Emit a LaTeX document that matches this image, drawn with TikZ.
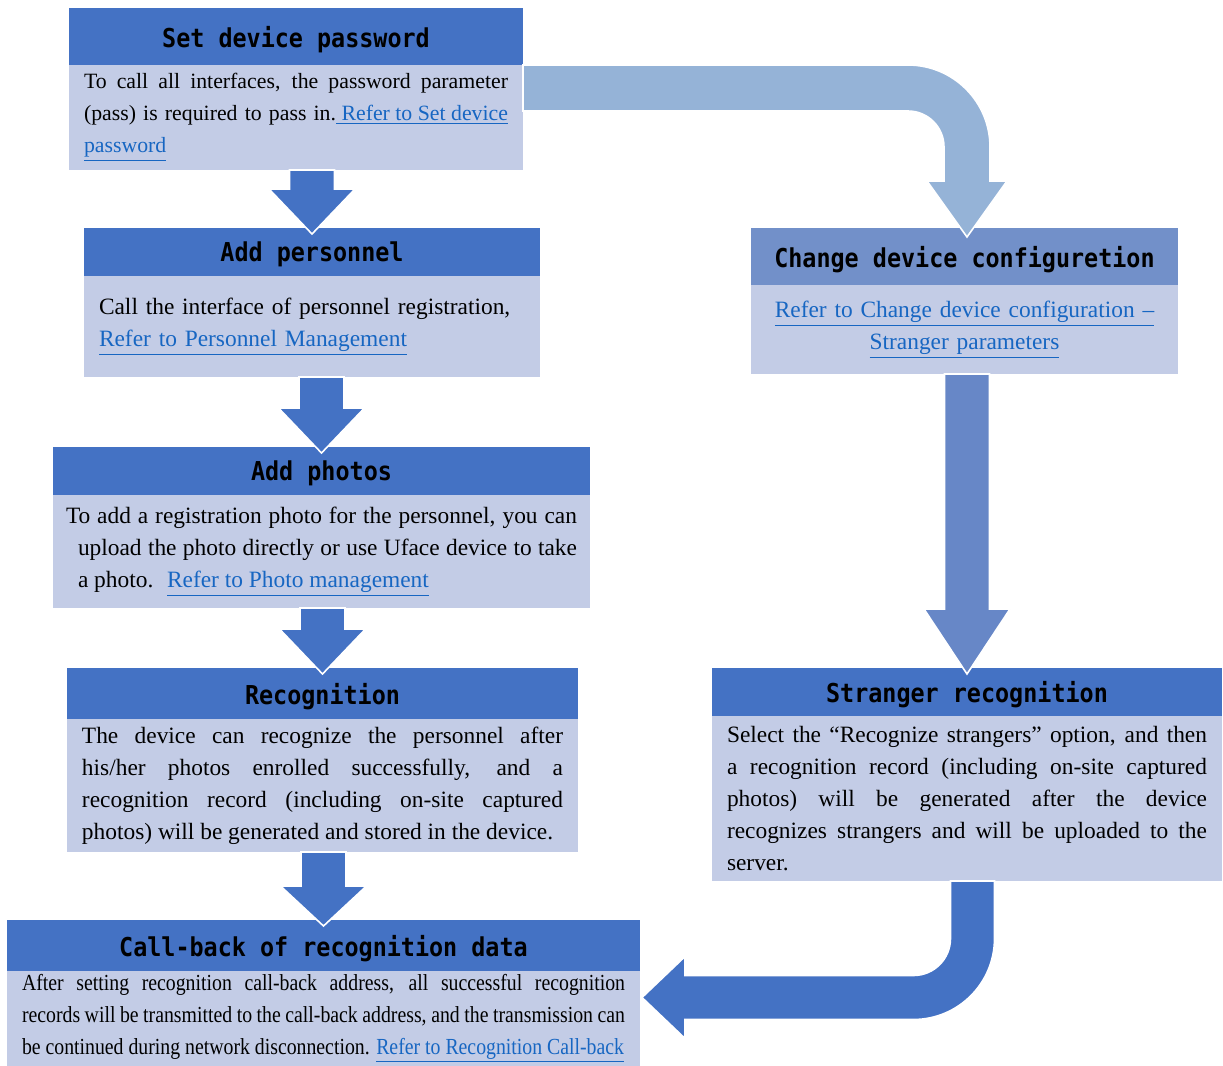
\documentclass[tikz,border=0pt]{standalone}
\usepackage{fontspec}
\setmainfont{Liberation Serif}
\newfontfamily\headfont{DejaVu Sans Mono}[FakeStretch=0.9]
\newfontfamily\narrowfont{Liberation Serif}[FakeStretch=0.86]
\usetikzlibrary{positioning,calc}
\definecolor{headblue}{HTML}{4472C4}
\definecolor{bodyblue}{HTML}{C3CCE6}
\definecolor{confblue}{HTML}{7290C9}
\definecolor{paleblue}{HTML}{95B3D7}
\definecolor{midblue}{HTML}{6787C7}
\definecolor{linkblue}{HTML}{1766C2}
\tikzstyle{head}=[fill=headblue, anchor=north west, inner sep=0pt, outer sep=0pt, text depth=0pt, font=\headfont\bfseries\fontsize{13}{15}\selectfont]
\tikzstyle{body}=[fill=bodyblue, inner xsep=7.5pt, inner ysep=0pt, outer sep=0pt, align=justify, font=\fontsize{11.7}{16}\selectfont]
\tikzstyle{blockarrow}=[draw=white, line width=0.8pt]
\newcommand{\lnk}[1]{{\color{linkblue}\underline{#1}}}
% from, to, colour, head base above target
\newcommand{\blockdown}[4]{%
  \fill[#3, blockarrow] let \p1=(#1.south), \p2=(#2.north) in
    (\x2-11.25pt,\y1) -- (\x2+11.25pt,\y1) -- (\x2+11.25pt,\y2+#4) -- (\x2+21.5pt,\y2+#4)
    -- (\x2,\y2-3pt) -- (\x2-21.5pt,\y2+#4) -- (\x2-11.25pt,\y2+#4) -- cycle;}

\begin{document}
\begin{tikzpicture}[x=1pt,y=1pt]
  \useasboundingbox (0,0) rectangle (611.5,-533);

  % left column
  \node at (34.5,-4) [head, minimum width=227pt, minimum height=28.5pt] (pwdhead) {Set device password};
  \node [body, below=0pt of pwdhead, text width=212pt, minimum height=52.5pt, font=\fontsize{10.9}{16}\selectfont] (pwdbody)
    {To call all interfaces, the password parameter\linebreak (pass) is required to pass in.\lnk{~Refer to Set device}\linebreak \lnk{password}};

  \node at (42,-114) [head, minimum width=228pt, minimum height=24pt] (pershead) {Add personnel};
  \node [body, below=0pt of pershead, text width=213pt, minimum height=50.5pt, align=left] (persbody)
    {Call the interface of personnel registration,\\ \lnk{Refer to Personnel Management}};

  \node at (26.5,-223.5) [head, minimum width=268.5pt, minimum height=24pt] (photohead) {Add photos};
  \node [body, below=0pt of photohead, text width=255.5pt, inner xsep=6.5pt, minimum height=56.5pt] (photobody)
    {{\hangindent=6pt \hangafter=1 To add a registration photo for the personnel, you can\linebreak upload the photo directly or use Uface device to take\linebreak a photo.~ \lnk{Refer to Photo management}\par}};

  \node at (33.5,-334) [head, minimum width=255.5pt, minimum height=25.5pt] (recoghead) {Recognition};
  \node [body, below=0pt of recoghead, text width=240.5pt, minimum height=66.5pt] (recogbody)
    {The device can recognize the personnel after\linebreak his/her photos enrolled successfully, and a\linebreak recognition record (including on-site captured\linebreak photos) will be generated and stored in the device.};

  \node at (3.5,-460) [head, minimum width=316.5pt, minimum height=25.5pt] (callbhead) {Call-back of recognition data};
  \node [body, below=0pt of callbhead, text width=301.5pt, minimum height=47.5pt, font=\narrowfont\fontsize{11.5}{16}\selectfont] (callbbody)
    {After setting recognition call-back address, all successful recognition\linebreak records will be transmitted to the call-back address, and the transmission can\linebreak be continued during network disconnection. \lnk{Refer to Recognition Call-back}};

  % right column
  \node at (375.5,-114) [head, fill=confblue, minimum width=213.5pt, minimum height=28.5pt] (confhead) {Change device configuretion};
  \node [body, below=0pt of confhead, text width=198.5pt, minimum height=44.5pt, align=center] (confbody)
    {\lnk{Refer to Change device configuration \textendash}\\ \lnk{Stranger parameters}};

  \node at (356,-334) [head, minimum width=255pt, minimum height=24pt] (strghead) {Stranger recognition};
  \node [body, below=0pt of strghead, text width=240pt, minimum height=82.5pt] (strgbody)
    {Select the “Recognize strangers” option, and then\linebreak a recognition record (including on-site captured\linebreak photos) will be generated after the device\linebreak recognizes strangers and will be uploaded to the\linebreak server.};

  % arrows
  \blockdown{pwdbody}{pershead}{headblue}{19.5pt}
  \blockdown{persbody}{photohead}{headblue}{19.5pt}
  \blockdown{photobody}{recoghead}{headblue}{19.5pt}
  \blockdown{recogbody}{callbhead}{headblue}{17pt}
  \blockdown{confbody}{strghead}{midblue}{29.5pt}

  \fill[paleblue, blockarrow] let \p1=(pwdbody.north east), \p2=(confhead.north) in
    (\x1,\y1) -- (\x2-28.25pt,\y1) arc[start angle=90, end angle=0, radius=41pt]
    -- (\x2+12.75pt,\y2+23.5pt) -- (\x2+21.25pt,\y2+23.5pt) -- (\x2+1.25pt,\y2-4.5pt)
    -- (\x2-18.75pt,\y2+23.5pt) -- (\x2-10.25pt,\y2+23.5pt) -- (\x2-10.25pt,\y1-41pt)
    arc[start angle=0, end angle=90, radius=18pt] -- (\x1,\y1-23pt) -- cycle;

  \fill[headblue, blockarrow] let \p1=(strgbody.south), \p2=(callbbody.east), \n1={\x1+2.75pt}, \n2={\y2+10.5pt} in
    (\n1-11pt,\y1) -- (\n1+11pt,\y1) -- (\n1+11pt,\n2+29.5pt) arc[start angle=0, end angle=-90, radius=40.5pt]
    -- (\x2+22.5pt,\n2-11pt) -- (\x2+22.5pt,\n2-20.5pt) -- (\x2+1pt,\n2) -- (\x2+22.5pt,\n2+20.5pt)
    -- (\x2+22.5pt,\n2+11pt) -- (\n1-29.5pt,\n2+11pt) arc[start angle=-90, end angle=0, radius=18.5pt] -- cycle;
\end{tikzpicture}
\end{document}
